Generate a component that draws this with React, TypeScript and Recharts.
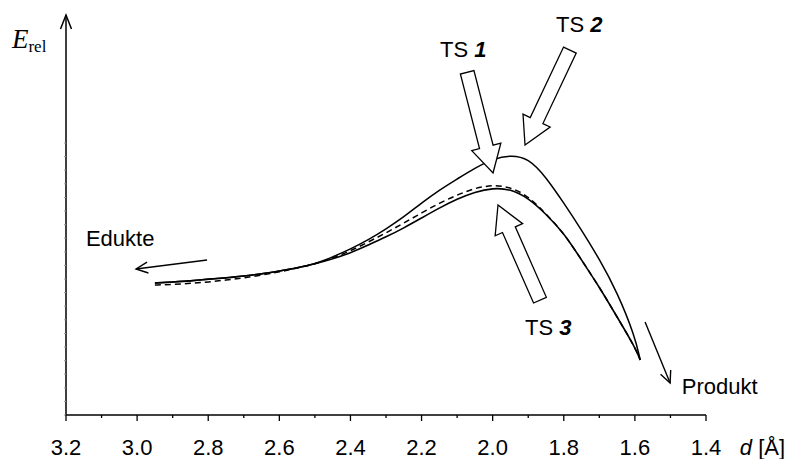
import React from 'react';
import { LineChart, Line, XAxis, YAxis, ReferenceDot } from 'recharts';

// bond distance d [Å] sampled along the reaction path
const dGrid = [
  2.95, 2.9, 2.85, 2.8, 2.75, 2.7, 2.65, 2.6, 2.55, 2.5,
  2.45, 2.4, 2.35, 2.3, 2.25, 2.2, 2.15, 2.1, 2.05, 2.0,
  1.95, 1.9, 1.85, 1.8, 1.75, 1.7, 1.65, 1.6, 1.585,
];
// relative energies (arbitrary units)
const eUpper = [
  33, 33.25, 33.5, 34, 34.25, 34.75, 35.25, 36, 36.75, 37.75,
  39.5, 41.5, 43.75, 46.5, 49.5, 53, 56.25, 59, 61.75, 64,
  65, 64.25, 59.5, 53, 46.25, 39, 30.75, 19.75, 13.75,
];
const eLower = [
  33, 33.25, 33.5, 34, 34.25, 34.75, 35.25, 36, 36.75, 37.75,
  39, 40.5, 42.5, 44.5, 46.75, 49.25, 51.75, 54, 55.75, 56.75,
  56.5, 54.25, 50.25, 45.5, 38.75, 32, 24.5, 17, 13.75,
];
const eDashed = [
  32.5, 32.6, 32.9, 33.25, 33.75, 34.25, 35, 35.75, 36.75, 37.75,
  39.25, 41, 43.25, 45.5, 48, 50.5, 53, 55, 56.75, 57.5,
  57, 54.75, 50.25, 45.5, 38.75, 32, 24.5, 17, 13.75,
];

const xTicks = [3.2, 3.1, 3.0, 2.9, 2.8, 2.7, 2.6, 2.5, 2.4, 2.3, 2.2, 2.1, 2.0, 1.9, 1.8, 1.7, 1.6, 1.5, 1.4];
const yTicks = [0, 3.4, 6.8, 10.2, 13.6, 17, 20.4, 23.8, 27.2, 30.6, 34, 37.4, 40.8, 44.2, 47.6, 51, 54.4, 57.8, 61.2, 64.6, 68];

const upperPath = dGrid.map((d, i) => ({ d, e: eUpper[i] }));
const lowerPath = dGrid.map((d, i) => ({ d, e: eLower[i] }));
const dashedPath = dGrid.map((d, i) => ({ d, e: eDashed[i] }));

// annotations, anchored in data coordinates
const tsArrows = [
  { d: 1.999, e: 60.5, rot: -14.4, len: 104 },
  { d: 1.909, e: 67.5, rot: 25.3, len: 105 },
  { d: 1.985, e: 52.5, rot: 156.2, len: 104 },
];
const tsLabels = [
  { d: 2.148, e: 89.5, num: '1' },
  { d: 1.822, e: 95.75, num: '2' },
  { d: 1.909, e: 20, num: '3' },
];
const lineArrows = [
  { d: 3.003, e: 36.5, tx: 71, ty: -9 },
  { d: 1.501, e: 8, tx: -25, ty: -61 },
];
const notes = [
  { d: 3.144, e: 42.25, text: 'Edukte' },
  { d: 1.468, e: 5.25, text: 'Produkt' },
];

const FONT = '"Liberation Sans", Arial, sans-serif';

const XTick = (props: any) => {
  const { x, y, payload } = props;
  const v = payload.value as number;
  const major = Math.round(v * 10) % 2 === 0;
  return (
    <g>
      <line x1={x} x2={x} y1={y} y2={y + (major ? 6 : 3)} stroke="#000" strokeWidth={1.3} />
      {major && (
        <text x={x} y={y + 40} textAnchor="middle" fontSize={22} fontFamily={FONT} fill="#000">
          {v.toFixed(1)}
        </text>
      )}
    </g>
  );
};

const BlockArrow = (rot: number, len: number) => (p: any) => {
  const pts = [
    [0, 0], [15, -27], [7, -27], [7, -len], [-7, -len], [-7, -27], [-15, -27],
  ].map((q) => q.join(',')).join(' ');
  return (
    <polygon
      points={pts}
      transform={`translate(${p.cx},${p.cy}) rotate(${rot})`}
      fill="#fff"
      stroke="#000"
      strokeWidth={1.3}
      strokeLinejoin="miter"
    />
  );
};

const OpenArrow = (tx: number, ty: number) => (p: any) => {
  const { cx, cy } = p;
  const a = Math.atan2(ty, tx);
  const arm = 13;
  const s = (25 * Math.PI) / 180;
  const a1 = [cx + arm * Math.cos(a + s), cy + arm * Math.sin(a + s)];
  const a2 = [cx + arm * Math.cos(a - s), cy + arm * Math.sin(a - s)];
  return (
    <g stroke="#000" strokeWidth={1.4} fill="none">
      <line x1={cx + tx} y1={cy + ty} x2={cx} y2={cy} />
      <polyline points={`${a1[0]},${a1[1]} ${cx},${cy} ${a2[0]},${a2[1]}`} />
    </g>
  );
};

export default function App() {
  return (
    <div style={{ position: 'absolute', left: 0, top: 0, background: '#fff' }}>
      <LineChart width={796} height={459} margin={{ top: 15, right: 90, bottom: 0, left: 0 }}>
        <XAxis
          type="number"
          dataKey="d"
          domain={[1.4, 3.2]}
          reversed
          ticks={xTicks}
          interval={0}
          height={44}
          tickSize={0}
          tickMargin={0}
          tickLine={false}
          tick={<XTick />}
          axisLine={{ stroke: '#000', strokeWidth: 1.5 }}
          allowDataOverflow
        />
        <YAxis
          type="number"
          domain={[0, 100]}
          ticks={yTicks}
          interval={0}
          width={66}
          tickSize={2}
          tick={() => <g />}
          tickLine={{ stroke: '#999' }}
          axisLine={{ stroke: '#000', strokeWidth: 1.5 }}
          allowDataOverflow
        />
        <Line data={upperPath} dataKey="e" type="basis" stroke="#000" strokeWidth={1.5} dot={false} isAnimationActive={false} />
        <Line data={dashedPath} dataKey="e" type="basis" stroke="#000" strokeWidth={1.5} strokeDasharray="6 4" dot={false} isAnimationActive={false} />
        <Line data={lowerPath} dataKey="e" type="basis" stroke="#000" strokeWidth={1.6} dot={false} isAnimationActive={false} />

        {/* y-axis arrow head */}
        <ReferenceDot
          x={3.2}
          y={100}
          ifOverflow="visible"
          shape={(p: any) => (
            <polyline
              points={`${p.cx - 5.5},${p.cy + 14} ${p.cx},${p.cy} ${p.cx + 5.5},${p.cy + 14}`}
              fill="none"
              stroke="#000"
              strokeWidth={1.5}
            />
          )}
        />
        {tsArrows.map((a, i) => (
          <ReferenceDot key={'ta' + i} x={a.d} y={a.e} ifOverflow="visible" shape={BlockArrow(a.rot, a.len)} />
        ))}
        {tsLabels.map((l, i) => (
          <ReferenceDot
            key={'tl' + i}
            x={l.d}
            y={l.e}
            ifOverflow="visible"
            shape={(p: any) => (
              <text x={p.cx} y={p.cy} fontSize={22} fontFamily={FONT} fill="#000">
                TS <tspan fontWeight="bold" fontStyle="italic">{l.num}</tspan>
              </text>
            )}
          />
        ))}
        {lineArrows.map((a, i) => (
          <ReferenceDot key={'la' + i} x={a.d} y={a.e} ifOverflow="visible" shape={OpenArrow(a.tx, a.ty)} />
        ))}
        {notes.map((n, i) => (
          <ReferenceDot
            key={'n' + i}
            x={n.d}
            y={n.e}
            ifOverflow="visible"
            shape={(p: any) => (
              <text x={p.cx} y={p.cy} fontSize={22} fontFamily={FONT} fill="#000">
                {n.text}
              </text>
            )}
          />
        ))}
        {/* axis titles */}
        <ReferenceDot
          x={3.352}
          y={91.75}
          ifOverflow="visible"
          shape={(p: any) => (
            <text x={p.cx} y={p.cy} fontFamily='"Liberation Serif", "Times New Roman", serif' fill="#000">
              <tspan fontSize={27} fontStyle="italic">E</tspan>
              <tspan fontSize={17} dy={4}>rel</tspan>
            </text>
          )}
        />
        <ReferenceDot
          x={1.305}
          y={-10}
          ifOverflow="visible"
          shape={(p: any) => (
            <text x={p.cx} y={p.cy} fontSize={22} fontFamily={FONT} fill="#000">
              <tspan fontStyle="italic">d</tspan> [Å]
            </text>
          )}
        />
      </LineChart>
    </div>
  );
}
